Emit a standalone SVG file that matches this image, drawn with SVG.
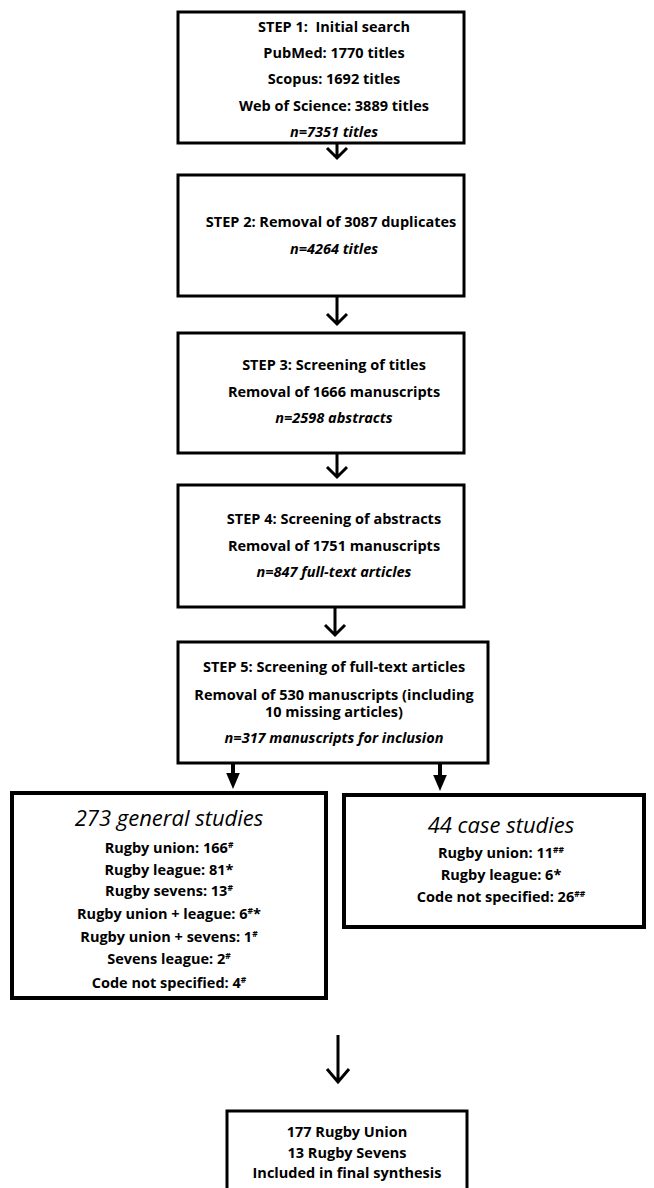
<svg xmlns="http://www.w3.org/2000/svg" width="654" height="1188" viewBox="0 0 654 1188">
<defs>
<style>
.box{fill:#fff;stroke:#000;stroke-width:3}
.tbox{fill:#fff;stroke:#000;stroke-width:4}
.t{font-family:"Open Sans","Liberation Sans",sans-serif;font-size:14.5px;font-weight:bold;text-anchor:middle;fill:#000}
.i{font-style:italic}
.h{font-family:"Open Sans","Liberation Sans",sans-serif;font-size:22px;font-style:italic;text-anchor:middle;fill:#000}
.sup{font-size:8.5px}
.ar{fill:none;stroke:#000;stroke-width:3}
.tar{stroke:#000;stroke-width:4}
</style>
<marker id="tri" markerWidth="4" markerHeight="4" refX="2" refY="2" orient="auto" markerUnits="strokeWidth" viewBox="0 0 4 4">
<path d="M0,0.3 L4,2 L0,3.7 Z" fill="#000"/>
</marker>
</defs>
<g id="connectors">
<path class="ar" d="M337,144 V158 M327,148 L337,158 L347,148"/>
<path class="ar" d="M337,296 V324 M327,314 L337,324 L347,314"/>
<path class="ar" d="M337,453 V477 M327,467 L337,477 L347,467"/>
<path class="ar" d="M335,607 V635 M325,625 L335,635 L345,625"/>
<line class="tar" x1="233" y1="763" x2="233" y2="781" marker-end="url(#tri)"/>
<line class="tar" x1="440" y1="763" x2="440" y2="783" marker-end="url(#tri)"/>
<path class="ar" d="M338,1035 V1082 M327,1069 L338,1082 L349,1069"/>
</g>
<g id="step1">
<rect class="box" x="178" y="12" width="286" height="131"/>
<text class="t" x="334" y="32" xml:space="preserve">STEP 1:  Initial search</text>
<text class="t" x="334" y="58">PubMed: 1770 titles</text>
<text class="t" x="334" y="84">Scopus: 1692 titles</text>
<text class="t" x="334" y="111">Web of Science: 3889 titles</text>
<text class="t i" x="334" y="137">n=7351 titles</text>
</g>
<g id="step2">
<rect class="box" x="178" y="175" width="286" height="121"/>
<text class="t" x="331" y="227">STEP 2: Removal of 3087 duplicates</text>
<text class="t i" x="334" y="254">n=4264 titles</text>
</g>
<g id="step3">
<rect class="box" x="178" y="333" width="286" height="120"/>
<text class="t" x="334" y="370">STEP 3: Screening of titles</text>
<text class="t" x="334" y="397">Removal of 1666 manuscripts</text>
<text class="t i" x="334" y="423">n=2598 abstracts</text>
</g>
<g id="step4">
<rect class="box" x="178" y="485" width="286" height="122"/>
<text class="t" x="334" y="524">STEP 4: Screening of abstracts</text>
<text class="t" x="334" y="551">Removal of 1751 manuscripts</text>
<text class="t i" x="334" y="577">n=847 full-text articles</text>
</g>
<g id="step5">
<rect class="box" x="178" y="642" width="310" height="121"/>
<text class="t" x="334" y="672">STEP 5: Screening of full-text articles</text>
<text class="t" x="334" y="700">Removal of 530 manuscripts (including</text>
<text class="t" x="334" y="717">10 missing articles)</text>
<text class="t i" x="334" y="743">n=317 manuscripts for inclusion</text>
</g>
<g id="general">
<rect class="tbox" x="12" y="793" width="314" height="205"/>
<text class="h" x="169" y="826">273 general studies</text>
<text class="t" x="169" y="853">Rugby union: 166<tspan class="sup" dy="-5">#</tspan></text>
<text class="t" x="169" y="875">Rugby league: 81*</text>
<text class="t" x="169" y="896">Rugby sevens: 13<tspan class="sup" dy="-5">#</tspan></text>
<text class="t" x="169" y="919">Rugby union + league: 6<tspan class="sup" dy="-5">#</tspan><tspan dy="5">*</tspan></text>
<text class="t" x="169" y="942">Rugby union + sevens: 1<tspan class="sup" dy="-5">#</tspan></text>
<text class="t" x="169" y="964">Sevens league: 2<tspan class="sup" dy="-5">#</tspan></text>
<text class="t" x="169" y="988">Code not specified: 4<tspan class="sup" dy="-5">#</tspan></text>
</g>
<g id="case">
<rect class="tbox" x="344" y="795" width="300" height="132"/>
<text class="h" x="501" y="833">44 case studies</text>
<text class="t" x="501" y="858">Rugby union: 11<tspan class="sup" dy="-5">##</tspan></text>
<text class="t" x="501" y="880">Rugby league: 6*</text>
<text class="t" x="501" y="902">Code not specified: 26<tspan class="sup" dy="-5">##</tspan></text>
</g>
<g id="final">
<rect class="box" x="227" y="1111" width="240" height="85"/>
<text class="t" x="347" y="1137">177 Rugby Union</text>
<text class="t" x="347" y="1158">13 Rugby Sevens</text>
<text class="t" x="347" y="1178">Included in final synthesis</text>
</g>
</svg>
